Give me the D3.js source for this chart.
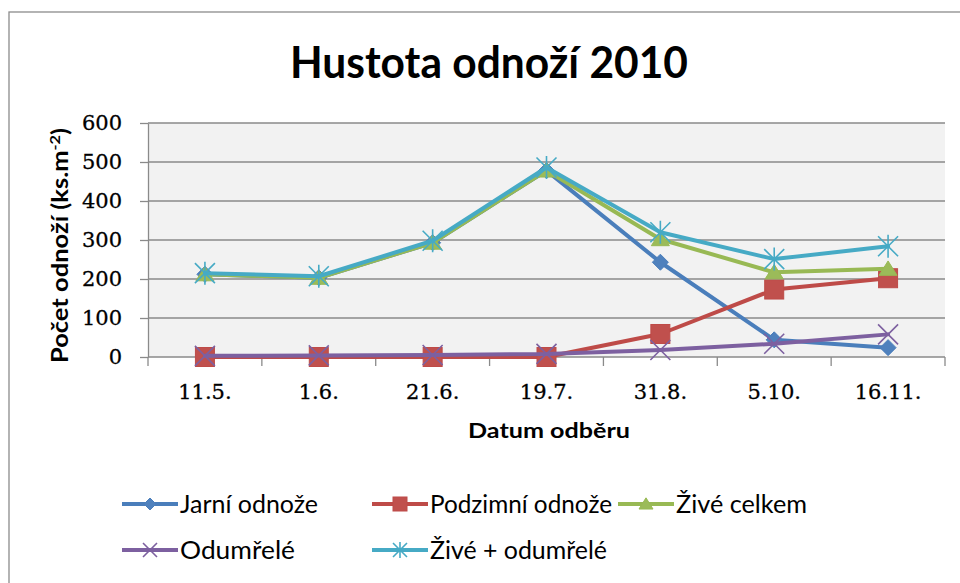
<!DOCTYPE html>
<html>
<head>
<meta charset="utf-8">
<script src="https://cdn.jsdelivr.net/npm/d3@7"></script>
<style>
  html, body { margin: 0; padding: 0; background: #fff; }
  svg { display: block; }
</style>
</head>
<body>
<svg id="chart" width="960" height="583"></svg>
<script>
// Sampling dates (x categories)
const dates = ["11.5.", "1.6.", "21.6.", "19.7.", "31.8.", "5.10.", "16.11."];

// Tiller counts per sampling date (ks.m-2)
const jarni      = [212, 203, 293, 478, 243, 44, 24];
const podzimni   = [0, 0, 0, 0, 59, 173, 202];
const ziveCelkem = [212, 203, 293, 478, 302, 217, 226];
const odumrele   = [3, 4, 5, 8, 18, 34, 58];
const zivePlusOd = [215, 207, 298, 486, 320, 251, 284];

// Series names and y-axis ticks
const seriesNames = ["Jarní odnože", "Podzimní odnože", "Živé celkem", "Odumřelé", "Živé + odumřelé"];
const yTicks = [0, 100, 200, 300, 400, 500, 600];

const series = [
  { name: seriesNames[0], values: jarni,      color: "#4A7EBB", fill: "#4F81BD", marker: "diamond" },
  { name: seriesNames[1], values: podzimni,   color: "#BE4B48", fill: "#C0504D", marker: "square" },
  { name: seriesNames[2], values: ziveCelkem, color: "#98B954", fill: "#9BBB59", marker: "triangle" },
  { name: seriesNames[3], values: odumrele,   color: "#7D60A0", fill: "#8064A2", marker: "x" },
  { name: seriesNames[4], values: zivePlusOd, color: "#46AAC5", fill: "#4BACC6", marker: "star" }
];

const svg = d3.select("#chart");
const sans = "Lato, 'Open Sans', 'DejaVu Sans', sans-serif";
const serif = "'DejaVu Serif', 'Liberation Serif', serif";

// Chart frame
svg.append("rect")
  .attr("x", 9).attr("y", 12).attr("width", 980).attr("height", 600)
  .attr("fill", "#fff").attr("stroke", "#8C8C8C").attr("stroke-width", 1.3);

// Plot area
const plot = { left: 148, right: 945, top: 123, bottom: 357 };

const x = d3.scaleBand().domain(dates).range([plot.left, plot.right]).padding(0);
const y = d3.scaleLinear().domain([0, 600]).range([plot.bottom, plot.top]);
const cx = d => x(d) + x.bandwidth() / 2;

svg.append("rect")
  .attr("x", plot.left).attr("y", plot.top)
  .attr("width", plot.right - plot.left).attr("height", plot.bottom - plot.top)
  .attr("fill", "#F2F2F2");

// Horizontal gridlines
svg.append("g").selectAll("line")
  .data(yTicks.filter(t => t > 0))
  .join("line")
  .attr("x1", plot.left).attr("x2", plot.right)
  .attr("y1", d => y(d)).attr("y2", d => y(d))
  .attr("stroke", "#8A8A8A").attr("stroke-width", 1.3);

// Y axis
const yAxis = svg.append("g")
  .attr("transform", `translate(${plot.left},0)`)
  .call(d3.axisLeft(y).tickValues(yTicks).tickSize(8).tickSizeOuter(0).tickPadding(18));
yAxis.select(".domain").attr("stroke", "#8A8A8A").attr("stroke-width", 1.3);
yAxis.selectAll(".tick line").attr("stroke", "#8A8A8A").attr("stroke-width", 1.3);
yAxis.selectAll(".tick text")
  .attr("font-family", serif).attr("font-size", 21).attr("fill", "#000")
  .attr("stroke", "#000").attr("stroke-width", 0.3);

// X axis: labels centred in bands, ticks on band boundaries
const xAxis = svg.append("g")
  .attr("transform", `translate(0,${plot.bottom})`)
  .call(d3.axisBottom(x).tickSize(0).tickSizeOuter(0).tickPadding(27));
xAxis.select(".domain").remove();
xAxis.selectAll(".tick text")
  .attr("font-family", serif).attr("font-size", 21).attr("fill", "#000")
  .attr("stroke", "#000").attr("stroke-width", 0.3);

const boundaries = dates.map(d => x(d)).concat([x.range()[1]]);
svg.append("line")
  .attr("x1", plot.left).attr("x2", plot.right)
  .attr("y1", y(0)).attr("y2", y(0))
  .attr("stroke", "#8A8A8A").attr("stroke-width", 1.3);
svg.append("g").selectAll("line")
  .data(boundaries)
  .join("line")
  .attr("x1", d => d).attr("x2", d => d)
  .attr("y1", y(0)).attr("y2", y(0) + 9)
  .attr("stroke", "#8A8A8A").attr("stroke-width", 1.3);

// Marker shapes
function drawMarker(g, type, fill, stroke, r) {
  if (type === "diamond") {
    g.append("path")
      .attr("d", `M0,${-r}L${r},0L0,${r}L${-r},0Z`)
      .attr("fill", fill).attr("stroke", stroke).attr("stroke-width", 1);
  } else if (type === "square") {
    g.append("rect")
      .attr("x", -r).attr("y", -r).attr("width", 2 * r).attr("height", 2 * r)
      .attr("fill", fill).attr("stroke", stroke).attr("stroke-width", 1);
  } else if (type === "triangle") {
    const h = r * 1.6;
    g.append("path")
      .attr("d", `M0,${-h * 0.55}L${r},${h * 0.45}L${-r},${h * 0.45}Z`)
      .attr("fill", fill).attr("stroke", stroke).attr("stroke-width", 1);
  } else if (type === "x") {
    g.append("path")
      .attr("d", `M${-r},${-r}L${r},${r}M${-r},${r}L${r},${-r}`)
      .attr("stroke", stroke).attr("stroke-width", 1.6).attr("fill", "none");
  } else if (type === "star") {
    g.append("path")
      .attr("d", `M${-r},${-r}L${r},${r}M${-r},${r}L${r},${-r}M0,${-r * 1.15}L0,${r * 1.15}`)
      .attr("stroke", stroke).attr("stroke-width", 1.6).attr("fill", "none");
  }
}

const markerSize = { diamond: 8, square: 9.5, triangle: 9, x: 10, star: 10 };
const legendMarkerSize = { diamond: 6, square: 7, triangle: 7, x: 7, star: 7 };

// Lines and markers, one series at a time
const line = d3.line().x((v, i) => cx(dates[i])).y(v => y(v));
series.forEach(s => {
  const g = svg.append("g");
  g.append("path")
    .attr("d", line(s.values))
    .attr("fill", "none").attr("stroke", s.color)
    .attr("stroke-width", 4).attr("stroke-linejoin", "round").attr("stroke-linecap", "round");
  s.values.forEach((v, i) => {
    const m = g.append("g").attr("transform", `translate(${cx(dates[i])},${y(v)})`);
    drawMarker(m, s.marker, s.fill, s.color, markerSize[s.marker]);
  });
});

// Title
svg.append("text")
  .attr("x", 489).attr("y", 78)
  .attr("text-anchor", "middle")
  .attr("font-family", sans).attr("font-weight", "bold").attr("font-size", 43)
  .attr("textLength", 398).attr("lengthAdjust", "spacingAndGlyphs")
  .text("Hustota odnoží 2010");

// X axis title
svg.append("text")
  .attr("x", 549).attr("y", 438)
  .attr("text-anchor", "middle")
  .attr("font-family", sans).attr("font-weight", "bold").attr("font-size", 21)
  .attr("textLength", 162).attr("lengthAdjust", "spacingAndGlyphs")
  .text("Datum odběru");

// Y axis title
const yTitle = svg.append("text")
  .attr("transform", "translate(68,245.5) rotate(-90)")
  .attr("text-anchor", "middle")
  .attr("font-family", sans).attr("font-weight", "bold").attr("font-size", 22)
  .attr("textLength", 235).attr("lengthAdjust", "spacingAndGlyphs");
yTitle.append("tspan").text("Počet odnoží (ks.m");
yTitle.append("tspan").attr("font-size", 14).attr("dy", -8).text("-2");
yTitle.append("tspan").attr("dy", 8).text(")");

// Legend
const legendLayout = [
  { x: 122, y: 504, w: 138 },
  { x: 372, y: 504, w: 182 },
  { x: 618, y: 504, w: 131 },
  { x: 122, y: 550, w: 115 },
  { x: 372, y: 550, w: 177 }
];
series.forEach((s, i) => {
  const L = legendLayout[i];
  const g = svg.append("g").attr("transform", `translate(${L.x},${L.y})`);
  g.append("line").attr("x1", 0).attr("x2", 56).attr("y1", 0).attr("y2", 0)
    .attr("stroke", s.color).attr("stroke-width", 4);
  const m = g.append("g").attr("transform", "translate(28,0)");
  drawMarker(m, s.marker, s.fill, s.color, legendMarkerSize[s.marker]);
  g.append("text")
    .attr("x", 58).attr("y", 9)
    .attr("font-family", sans).attr("font-size", 25).attr("fill", "#000")
    .attr("textLength", L.w).attr("lengthAdjust", "spacingAndGlyphs")
    .text(s.name);
});
</script>
</body>
</html>
